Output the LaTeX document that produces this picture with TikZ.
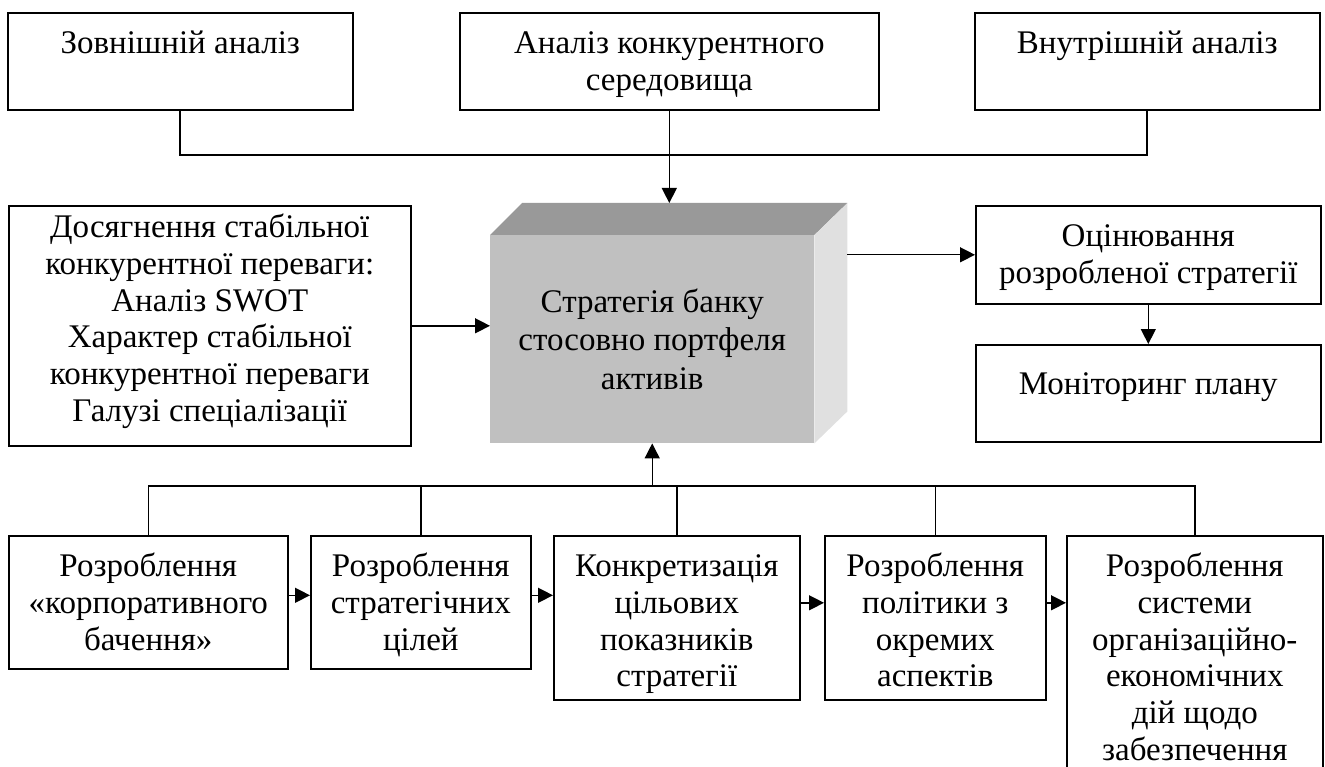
\documentclass[tikz,border=0pt]{standalone}
\usepackage{fontspec}
\setmainfont{Liberation Serif}
\usetikzlibrary{arrows.meta,calc}
\definecolor{cubetop}{HTML}{999999}
\definecolor{cubefront}{HTML}{C0C0C0}
\definecolor{cubeside}{HTML}{E0E0E0}
\newcommand{\tbox}[4]{\parbox[c][#2pt][t]{#1pt}{\centering\vspace*{#3pt}\strut #4\par}}
\begin{document}
\begin{tikzpicture}[x=1pt,y=-1pt,
  every node/.style={font=\fontsize{33}{36.8}\selectfont},
  box/.style={draw, line width=1.6pt, inner sep=0pt, anchor=north west},
  conn/.style={line width=1.4pt},
  arr/.style={conn, -{Triangle[length=15pt,width=15pt]}}]
\clip (0,0) rectangle (1325,767);
% top row
\node[box] (t1) at (7,12) {\tbox{345}{97}{15}{Зовнішній аналіз}};
\node[box] (t2) at (459,12) {\tbox{419}{97}{15}{Аналіз конкурентного\\середовища}};
\node[box] (t3) at (974,12) {\tbox{345}{97}{15}{Внутрішній аналіз}};
% left
\node[box] (l) at (8,205) {\tbox{402}{240}{6}{Досягнення стабільної\\конкурентної переваги:\\Аналіз SWOT\\Характер стабільної\\конкурентної переваги\\Галузі спеціалізації}};
% core 3D box
\node[fill=cubefront, anchor=north west, minimum width=324pt, minimum height=208pt, inner sep=0pt, align=center, font=\fontsize{33}{38.5}\selectfont] (core) at (490,235) {Стратегія банку\\стосовно портфеля\\активів};
\coordinate (cbl) at ($(core.north west)+(32,-32)$);
\coordinate (cbr) at ($(core.north east)+(33,-32)$);
\coordinate (cbb) at ($(core.south east)+(33,-32)$);
\fill[cubetop] (core.north west) -- (cbl) -- (cbr) -- (core.north east) -- cycle;
\fill[cubeside] (core.north east) -- (cbr) -- (cbb) -- (core.south east) -- cycle;
% right
\node[box] (r1) at (975,205) {\tbox{345}{98}{15}{Оцінювання\\розробленої стратегії}};
\node[box] (r2) at (975,344) {\tbox{345}{97}{24}{Моніторинг плану}};
% bottom row
\node[box] (b1) at (8,535) {\tbox{279}{133}{15}{Розроблення\\«корпоративного\\бачення»}};
\node[box] (b2) at (310,535) {\tbox{220}{133}{15}{Розроблення\\стратегічних\\цілей}};
\node[box] (b3) at (553,535) {\tbox{246}{164}{15}{Конкретизація\\цільових\\показників\\стратегії}};
\node[box] (b4) at (824,535) {\tbox{221}{164}{15}{Розроблення\\політики з\\окремих\\аспектів}};
\node[box] (b5) at (1066,535) {\tbox{256}{260}{15}{Розроблення\\системи\\організаційно-\\економічних\\дій щодо\\забезпечення}};
% connectors top
\coordinate (tbus) at (0,155);
\draw[conn, line width=1.8pt] (t1.south) -- (t1.south |- tbus) -- (t3.south |- tbus) -- (t3.south);
\draw[conn] (t2.south) -- (t2.south |- tbus);
\draw[arr] (t2.south |- tbus) -- (t2.south |- cbl);
\draw[arr] (l.east) -- (l.east -| core.west);
\draw[arr] (r1.west -| cbr) -- (r1.west);
\draw[arr] (r1.south) -- (r2.north);
% connectors bottom
\coordinate (bbus) at (0,486);
\draw[conn] (b1.north) -- (b1.north |- bbus) -- (b5.north |- bbus) -- (b5.north);
\draw[conn] (b2.north) -- (b2.north |- bbus);
\draw[conn] (b3.north) -- (b3.north |- bbus);
\draw[conn] (b4.north) -- (b4.north |- bbus);
\draw[arr] (core.south |- bbus) -- (core.south);
\coordinate (a1) at ($(b1.east)+(0,-7)$);
\coordinate (a2) at ($(b2.east)+(0,-7)$);
\coordinate (a3) at ($(b3.east)+(0,-15)$);
\coordinate (a4) at ($(b4.east)+(0,-15)$);
\draw[arr] (a1) -- (a1 -| b2.west);
\draw[arr] (a2) -- (a2 -| b3.west);
\draw[arr] (a3) -- (a3 -| b4.west);
\draw[arr] (a4) -- (a4 -| b5.west);
\end{tikzpicture}
\end{document}
